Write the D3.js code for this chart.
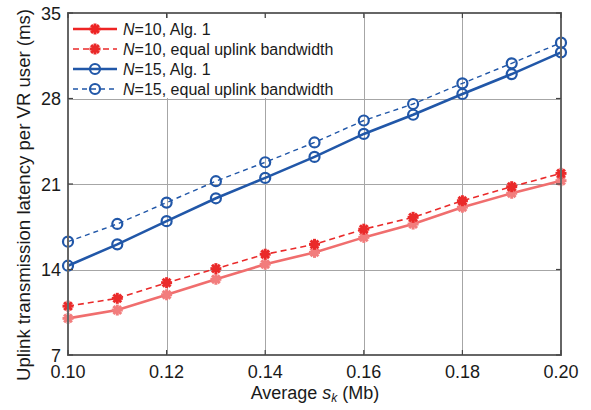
<!DOCTYPE html>
<html><head><meta charset="utf-8">
<script src="https://cdn.jsdelivr.net/npm/d3@7"></script>
<style>body{margin:0;background:#fff;} text{font-family:"Liberation Sans",Arial,sans-serif;fill:#1a1a1a;}</style>
</head><body>
<svg id="c" width="591" height="410"></svg>
<script>
const xs = [0.10,0.11,0.12,0.13,0.14,0.15,0.16,0.17,0.18,0.19,0.20];
const n10alg = [10.0,10.68,11.93,13.2,14.43,15.4,16.63,17.72,19.1,20.24,21.27];
const n10eq  = [11.0,11.64,12.92,14.07,15.25,16.06,17.3,18.27,19.63,20.78,21.87];
const n15alg = [14.31,16.06,17.96,19.83,21.5,23.22,25.1,26.67,28.37,30.0,31.78];
const n15eq  = [16.28,17.73,19.48,21.23,22.78,24.4,26.2,27.55,29.24,30.88,32.57];
const xTicks = [0.10,0.12,0.14,0.16,0.18,0.20];
const yTicks = [7,14,21,28,35];
const legendLabels = ["=10, Alg. 1","=10, equal uplink bandwidth","=15, Alg. 1","=15, equal uplink bandwidth"];

const svg = d3.select("#c");
const L=68,R=561,T=13,B=355;
const x = d3.scaleLinear().domain([0.10,0.20]).range([L,R]);
const y = d3.scaleLinear().domain([7,35]).range([B,T]);

const series = [
  {vals:n10alg, color:"#f06e6e", mcolor:"#f27d7d", lcolor:"#ee2424", dash:null, w:2.6, mark:"star"},
  {vals:n10eq,  color:"#ea2a2a", mcolor:"#ea2a2a", lcolor:"#ea2a2a", dash:"6,4", w:1.6, mark:"star"},
  {vals:n15alg, color:"#2157a8", mcolor:"#2157a8", lcolor:"#2157a8", dash:null, w:2.6, mark:"circle"},
  {vals:n15eq,  color:"#2157a8", mcolor:"#2157a8", lcolor:"#2157a8", dash:"5,4", w:1.4, mark:"circle"}
];

// grid
const g = svg.append("g");
g.selectAll(".gx").data(xTicks.slice(1,-1)).enter().append("line")
  .attr("x1",d=>Math.round(x(d))+0.5).attr("x2",d=>Math.round(x(d))+0.5).attr("y1",T).attr("y2",B)
  .attr("stroke","#a6a6a6").attr("stroke-width",1);
g.selectAll(".gy").data(yTicks.slice(1,-1)).enter().append("line")
  .attr("y1",d=>Math.round(y(d))+0.5).attr("y2",d=>Math.round(y(d))+0.5).attr("x1",L).attr("x2",R)
  .attr("stroke","#a6a6a6").attr("stroke-width",1);

function drawMarker(sel, type, color, cx, cy){
  if(type==="circle"){
    sel.append("circle").attr("cx",cx).attr("cy",cy).attr("r",5)
      .attr("fill","none").attr("stroke",color).attr("stroke-width",2.2);
  } else {
    const r=5.5;
    const m=sel.append("g").attr("transform",`translate(${cx},${cy})`);
    [0,45,90,135].forEach(a=>{
      const rad=a*Math.PI/180;
      m.append("line").attr("x1",-r*Math.cos(rad)).attr("y1",-r*Math.sin(rad))
        .attr("x2",r*Math.cos(rad)).attr("y2",r*Math.sin(rad))
        .attr("stroke",color).attr("stroke-width",3);
    });
    m.append("circle").attr("r",3).attr("fill",color);
  }
}

const line = d3.line().x((d,i)=>x(xs[i])).y(d=>y(d));
const plot = svg.append("g");
series.forEach(s=>{
  plot.append("path").attr("d",line(s.vals)).attr("fill","none")
    .attr("stroke",s.color).attr("stroke-width",s.w).attr("stroke-dasharray",s.dash);
  s.vals.forEach((v,i)=>drawMarker(plot,s.mark,s.mcolor,x(xs[i]),y(v)));
});

// legend
const lg = svg.append("g");
lg.append("rect").attr("x",L+1).attr("y",T+5).attr("width",284).attr("height",80).attr("fill","#fff");
const rows=[29,49,69,89];
series.forEach((s,i)=>{
  const yy=rows[i];
  lg.append("line").attr("x1",73).attr("x2",117).attr("y1",yy).attr("y2",yy)
    .attr("stroke",s.lcolor).attr("stroke-width",s.w).attr("stroke-dasharray",s.dash);
  drawMarker(lg,s.mark,s.lcolor,95,yy);
  const t=lg.append("text").attr("x",123).attr("y",yy+5.8).attr("font-size",16);
  t.append("tspan").attr("font-style","italic").text("N");
  t.append("tspan").text(legendLabels[i]);
});

// axes box
svg.append("rect").attr("x",L).attr("y",T).attr("width",R-L).attr("height",B-T)
  .attr("fill","none").attr("stroke","#666").attr("stroke-width",2);

// ticks inward
const tk = svg.append("g").attr("stroke","#444").attr("stroke-width",1.2);
xTicks.forEach(d=>{
  tk.append("line").attr("x1",x(d)).attr("x2",x(d)).attr("y1",B).attr("y2",B-5);
  tk.append("line").attr("x1",x(d)).attr("x2",x(d)).attr("y1",T).attr("y2",T+5);
});
yTicks.forEach(d=>{
  tk.append("line").attr("y1",y(d)).attr("y2",y(d)).attr("x1",L).attr("x2",L+5);
  tk.append("line").attr("y1",y(d)).attr("y2",y(d)).attr("x1",R).attr("x2",R-5);
});

// tick labels
svg.append("g").selectAll("text").data(xTicks).enter().append("text")
  .attr("x",d=>x(d)).attr("y",378).attr("text-anchor","middle").attr("font-size",18)
  .text(d=>d3.format(".2f")(d));
svg.append("g").selectAll("text").data(yTicks).enter().append("text")
  .attr("x",61).attr("y",d=>y(d)+6.5).attr("text-anchor","end").attr("font-size",18)
  .text(d=>d);

// axis labels
const xl = svg.append("text").attr("x",315).attr("y",399).attr("text-anchor","middle").attr("font-size",18);
xl.append("tspan").text("Average ");
xl.append("tspan").attr("font-style","italic").text("s");
xl.append("tspan").attr("font-style","italic").attr("font-size",12).attr("dy",3).text("k");
xl.append("tspan").attr("dy",-3).text(" (Mb)");

svg.append("text").attr("transform","translate(30,195) rotate(-90)")
  .attr("text-anchor","middle").attr("font-size",18.6)
  .text("Uplink transmission latency per VR user (ms)");
</script>
</body></html>
